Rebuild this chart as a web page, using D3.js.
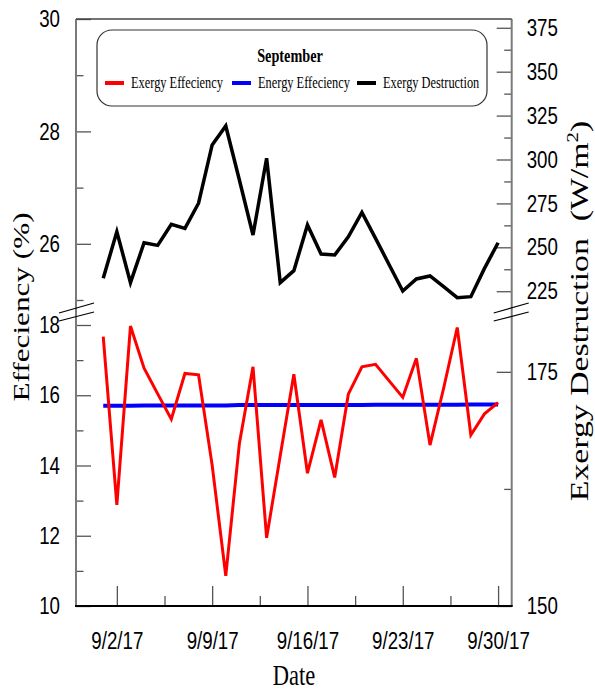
<!DOCTYPE html>
<html>
<head>
<meta charset="utf-8">
<script src="https://cdn.jsdelivr.net/npm/d3@7"></script>
<style>
  body { margin: 0; background: #fff; }
  svg { display: block; }
</style>
</head>
<body>
<div id="chart"></div>
<script>
// ---- data ----
const days = d3.timeDay.range(new Date(2017, 8, 1), new Date(2017, 9, 1));   // 9/1 .. 9/30
const exergyEff = [17.67, 12.88, 17.97, 16.77, 16.04, 15.32, 16.62, 16.58, 14.01, 10.86,
                   14.63, 16.81, 11.94, 14.28, 16.60, 13.78, 15.30, 13.66, 16.03, 16.81,
                   16.88, 16.41, 15.94, 17.05, 14.58, 16.20, 17.93, 14.87, 15.47, 15.79];
const energyEff = [15.70, 15.70, 15.70, 15.71, 15.71, 15.71, 15.71, 15.71, 15.71, 15.71,
                   15.72, 15.72, 15.72, 15.72, 15.72, 15.72, 15.72, 15.72, 15.72, 15.72,
                   15.73, 15.73, 15.73, 15.73, 15.73, 15.73, 15.73, 15.74, 15.74, 15.74];
const destruction = [232.4, 258.9, 229.9, 252.6, 251.1, 263.1, 260.8, 275.1, 308.3, 319.1,
                     288.3, 257.0, 300.7, 229.9, 236.7, 262.7, 246.2, 245.6, 256.0, 269.9,
                     255.1, 240.1, 225.1, 232.0, 233.7, 227.6, 221.3, 221.9, 238.0, 252.6];
const xTickDates = ["2017-09-02", "2017-09-09", "2017-09-16", "2017-09-23", "2017-09-30"];
const leftTopTicks = [26, 28, 30], leftTopMinor = [25, 27, 29];
const leftBotTicks = [10, 12, 14, 16, 18], leftBotMinor = [11, 13, 15, 17];
const rightTopTicks = [225, 250, 275, 300, 325, 350, 375], rightTopMinor = [237.5, 262.5, 287.5, 312.5, 337.5, 362.5];
const rightBotTicks = [150, 175], rightBotMinor = [162.5];
const legendItems = [
  {name: "Exergy Effeciency", color: "#ff0000"},
  {name: "Energy Effeciency", color: "#0000ff"},
  {name: "Exergy Destruction", color: "#000000"}
];

// ---- layout ----
const width = 595, height = 693;
const pL = 76, pR = 511.7, pT = 19, pB = 606;
const breakTop = 300, breakBot = 325;
const sx = 0.78;   // horizontal squeeze of the picture's text

const svg = d3.select("#chart").append("svg")
  .attr("width", width).attr("height", height);

const x = d3.scaleTime().domain([new Date(2017, 7, 30), new Date(2017, 9, 1)]).range([pL, pR]);
const yL1 = d3.scaleLinear().domain([25, 30]).range([breakTop, pT]);
const yL2 = d3.scaleLinear().domain([10, 18]).range([pB, breakBot]);
const yR1 = d3.scaleLinear().domain([220, 380]).range([breakTop, pT]);
const yR2 = d3.scaleLinear().domain([150, 180]).range([pB, breakBot]);

function squeeze(g) {
  g.select(".domain").remove();
  g.selectAll(".tick line").attr("stroke", "#555").attr("stroke-width", 1.3);
  g.selectAll(".tick text")
    .attr("font-family", "'Liberation Sans', Arial, sans-serif")
    .attr("font-size", 24)
    .attr("fill", "#000")
    .attr("x", function() { return +d3.select(this).attr("x") / sx; })
    .attr("transform", `scale(${sx},1)`);
}

function axis(gen, scale, pos, major, minor, size, pad, fmt) {
  svg.append("g").attr("transform", pos)
    .call(gen(scale).tickValues(minor).tickSize(-size / 2).tickFormat(""))
    .call(squeeze);
  svg.append("g").attr("transform", pos)
    .call(gen(scale).tickValues(major).tickSize(-size).tickPadding(pad).tickFormat(fmt))
    .call(squeeze);
}

const fmtInt = d3.format("d");
axis(d3.axisLeft, yL1, `translate(${pL},0)`, leftTopTicks, leftTopMinor, 15, 16, fmtInt);
axis(d3.axisLeft, yL2, `translate(${pL},0)`, leftBotTicks, leftBotMinor, 15, 16, fmtInt);
axis(d3.axisRight, yR1, `translate(${pR},0)`, rightTopTicks, rightTopMinor, 15, 15, fmtInt);
axis(d3.axisRight, yR2, `translate(${pR},0)`, rightBotTicks, rightBotMinor, 15, 15, fmtInt);

const majorDates = xTickDates.map(d3.timeParse("%Y-%m-%d"));
const minorDates = majorDates.slice(0, -1).map(d => d3.timeHour.offset(d, 84));
axis(d3.axisBottom, x, `translate(0,${pB})`, majorDates, minorDates, 20, 26, d3.timeFormat("%-m/%-d/%y"));

// frame
svg.append("line").attr("x1", pL).attr("x2", pL).attr("y1", pT).attr("y2", pB)
  .attr("stroke", "#7a7a7a").attr("stroke-width", 2);
svg.append("line").attr("x1", pR).attr("x2", pR).attr("y1", pT).attr("y2", pB)
  .attr("stroke", "#7a7a7a").attr("stroke-width", 2);
svg.append("line").attr("x1", pL).attr("x2", pR).attr("y1", pT).attr("y2", pT)
  .attr("stroke", "#444").attr("stroke-width", 1.5);
svg.append("line").attr("x1", pL - 1).attr("x2", pR + 1).attr("y1", pB).attr("y2", pB)
  .attr("stroke", "#000").attr("stroke-width", 2);

// break marks
const breaks = svg.append("g").attr("stroke", "#000").attr("stroke-width", 1.2);
[pL - 17, pR - 18].forEach(x0 => {
  breaks.append("line").attr("x1", x0).attr("y1", 313).attr("x2", x0 + 35).attr("y2", 303);
  breaks.append("line").attr("x1", x0).attr("y1", 321).attr("x2", x0 + 35).attr("y2", 312);
});

// series
const lineL = d3.line().x((d, i) => x(days[i])).y(d => yL2(d));
const lineR = d3.line().x((d, i) => x(days[i])).y(d => yR1(d));

svg.append("path").datum(destruction).attr("d", lineR)
  .attr("fill", "none").attr("stroke", "#000").attr("stroke-width", 3.5).attr("stroke-linejoin", "miter");
svg.append("path").datum(energyEff).attr("d", lineL)
  .attr("fill", "none").attr("stroke", "#0000ff").attr("stroke-width", 4);
svg.append("path").datum(exergyEff).attr("d", lineL)
  .attr("fill", "none").attr("stroke", "#ff0000").attr("stroke-width", 3).attr("stroke-linejoin", "miter");

// legend
const serif = "'Liberation Serif', 'Times New Roman', serif";
const leg = svg.append("g");
leg.append("rect").attr("x", 97).attr("y", 30).attr("width", 390).attr("height", 76)
  .attr("rx", 15).attr("fill", "#fff").attr("stroke", "#333").attr("stroke-width", 1.2);
leg.append("text")
  .attr("transform", `translate(290,62) scale(0.75,1)`)
  .attr("text-anchor", "middle")
  .attr("font-family", serif)
  .attr("font-weight", "bold").attr("font-size", 19)
  .text("September");
const legX = [105, 232, 357];
legendItems.forEach((d, i) => {
  leg.append("line").attr("x1", legX[i]).attr("x2", legX[i] + 19).attr("y1", 83).attr("y2", 83)
    .attr("stroke", d.color).attr("stroke-width", 4);
  leg.append("text")
    .attr("transform", `translate(${legX[i] + 26},88) scale(0.75,1)`)
    .attr("font-family", serif)
    .attr("font-size", 16.5)
    .text(d.name);
});

// axis titles
svg.append("text")
  .attr("transform", "translate(29,307) rotate(-90) scale(1.3,1)")
  .attr("text-anchor", "middle").attr("font-family", serif).attr("font-size", 24)
  .text("Effeciency (%)");

const rt = svg.append("text")
  .attr("transform", "translate(588,311) rotate(-90) scale(1.3,1)")
  .attr("text-anchor", "middle").attr("font-family", serif).attr("font-size", 26);
rt.append("tspan").text("Exergy Destruction\u00a0\u00a0(W/m");
rt.append("tspan").attr("font-size", 16).attr("dy", -10).text("2");
rt.append("tspan").attr("dy", 10).text(")");

svg.append("text")
  .attr("transform", "translate(294,685) scale(0.75,1)")
  .attr("text-anchor", "middle").attr("font-family", serif).attr("font-size", 30)
  .text("Date");
</script>
</body>
</html>
